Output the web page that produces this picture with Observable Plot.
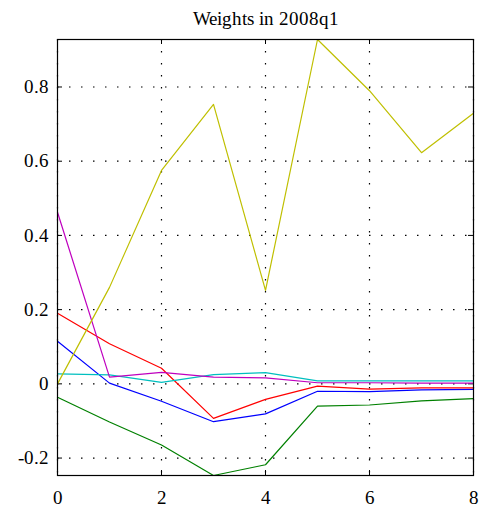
<!DOCTYPE html>
<html>
<head>
<meta charset="utf-8">
<script src="https://cdn.jsdelivr.net/npm/d3@7"></script>
<script src="https://cdn.jsdelivr.net/npm/@observablehq/plot@0.6"></script>
<style>
  @font-face {
    font-family: "RefSerif";
    src: local("Liberation Serif"), local("LiberationSerif"), local("LiberationSerif-Regular"),
         local("DejaVu Serif"), local("DejaVuSerif"), local("Noto Serif"), local("NotoSerif-Regular"),
         local("Times New Roman"), local("TimesNewRomanPSMT");
  }
  html, body { margin: 0; padding: 0; background: #fff; }
</style>
</head>
<body>
<div id="chart"></div>
<script>
const titleText = "Weights in 2008q1";
const horizons = [0, 1, 2, 3, 4, 5, 6, 7, 8];
const seriesNames = ["s1", "s2", "s3", "s4", "s5", "s6"];
const seriesColors = ["#0000ff", "#008000", "#ff0000", "#00bfbf", "#bf00bf", "#bfbf00"];
const s1Vals = [0.115, 0.002, -0.047, -0.102, -0.081, -0.020, -0.021, -0.016, -0.015];
const s2Vals = [-0.036, -0.103, -0.165, -0.247, -0.218, -0.060, -0.057, -0.046, -0.040];
const s3Vals = [0.190, 0.108, 0.042, -0.093, -0.042, -0.006, -0.014, -0.011, -0.011];
const s4Vals = [0.027, 0.024, 0.004, 0.025, 0.030, 0.008, 0.008, 0.008, 0.008];
const s5Vals = [0.4625, 0.018, 0.031, 0.018, 0.016, 0.003, 0.003, 0.002, 0.002];
const s6Vals = [0.0, 0.26, 0.575, 0.753, 0.252, 0.928, 0.79, 0.623, 0.729];
const xTicks = [0, 2, 4, 6, 8];
const yTicks = [-0.2, 0, 0.2, 0.4, 0.6, 0.8];
const xDomain = [0, 8];
const yDomain = [-0.247, 0.928];

const allVals = [s1Vals, s2Vals, s3Vals, s4Vals, s5Vals, s6Vals];
const table = [];
seriesNames.forEach((s, si) => {
  horizons.forEach((h, i) => table.push({series: s, x: h, y: allVals[si][i]}));
});

const font = "RefSerif, Liberation Serif, DejaVu Serif, serif";
function draw() {
  const chart = Plot.plot({
    width: 479,
    height: 509,
    marginLeft: 57,
    marginRight: 6,
    marginTop: 39,
    marginBottom: 34,
    style: {fontFamily: font, fontSize: "19px", background: "#fff", color: "#000"},
    x: {domain: xDomain},
    y: {domain: yDomain},
    color: {type: "ordinal", domain: seriesNames, range: seriesColors},
    marks: [
      Plot.ruleX(xTicks, {x: d => d, stroke: "#000", strokeWidth: 1.2, strokeDasharray: "1.5,10.5"}),
      Plot.ruleY(yTicks, {y: d => d, stroke: "#000", strokeWidth: 1.2, strokeDasharray: "1.5,10.5"}),
      Plot.ruleX(xTicks, {x: d => d, y1: yDomain[0], y2: yDomain[0], insetTop: -5, stroke: "#000"}),
      Plot.ruleX(xTicks, {x: d => d, y1: yDomain[1], y2: yDomain[1], insetBottom: -5, stroke: "#000"}),
      Plot.ruleY(yTicks, {y: d => d, x1: xDomain[0], x2: xDomain[0], insetRight: -5, stroke: "#000"}),
      Plot.ruleY(yTicks, {y: d => d, x1: xDomain[1], x2: xDomain[1], insetLeft: -5, stroke: "#000"}),
      Plot.line(table, {x: "x", y: "y", z: "series", stroke: "series", strokeWidth: 1.2}),
      Plot.frame({stroke: "#000", strokeWidth: 1.2}),
      Plot.axisX({ticks: xTicks, tickSize: 0, tickPadding: 14.5, tickFormat: d => String(d), fontSize: 19, fontFamily: font, label: null}),
      Plot.axisY({ticks: yTicks, tickSize: 0, tickPadding: 9, tickFormat: d => String(d), fontSize: 19, fontFamily: font, label: null}),
      Plot.text([titleText], {text: d => d, frameAnchor: "top", lineAnchor: "bottom", dy: -15, fontSize: 19, fontFamily: font, fill: "#000"})
    ]
  });
  document.getElementById("chart").appendChild(chart);
}
draw();
</script>
</body>
</html>
